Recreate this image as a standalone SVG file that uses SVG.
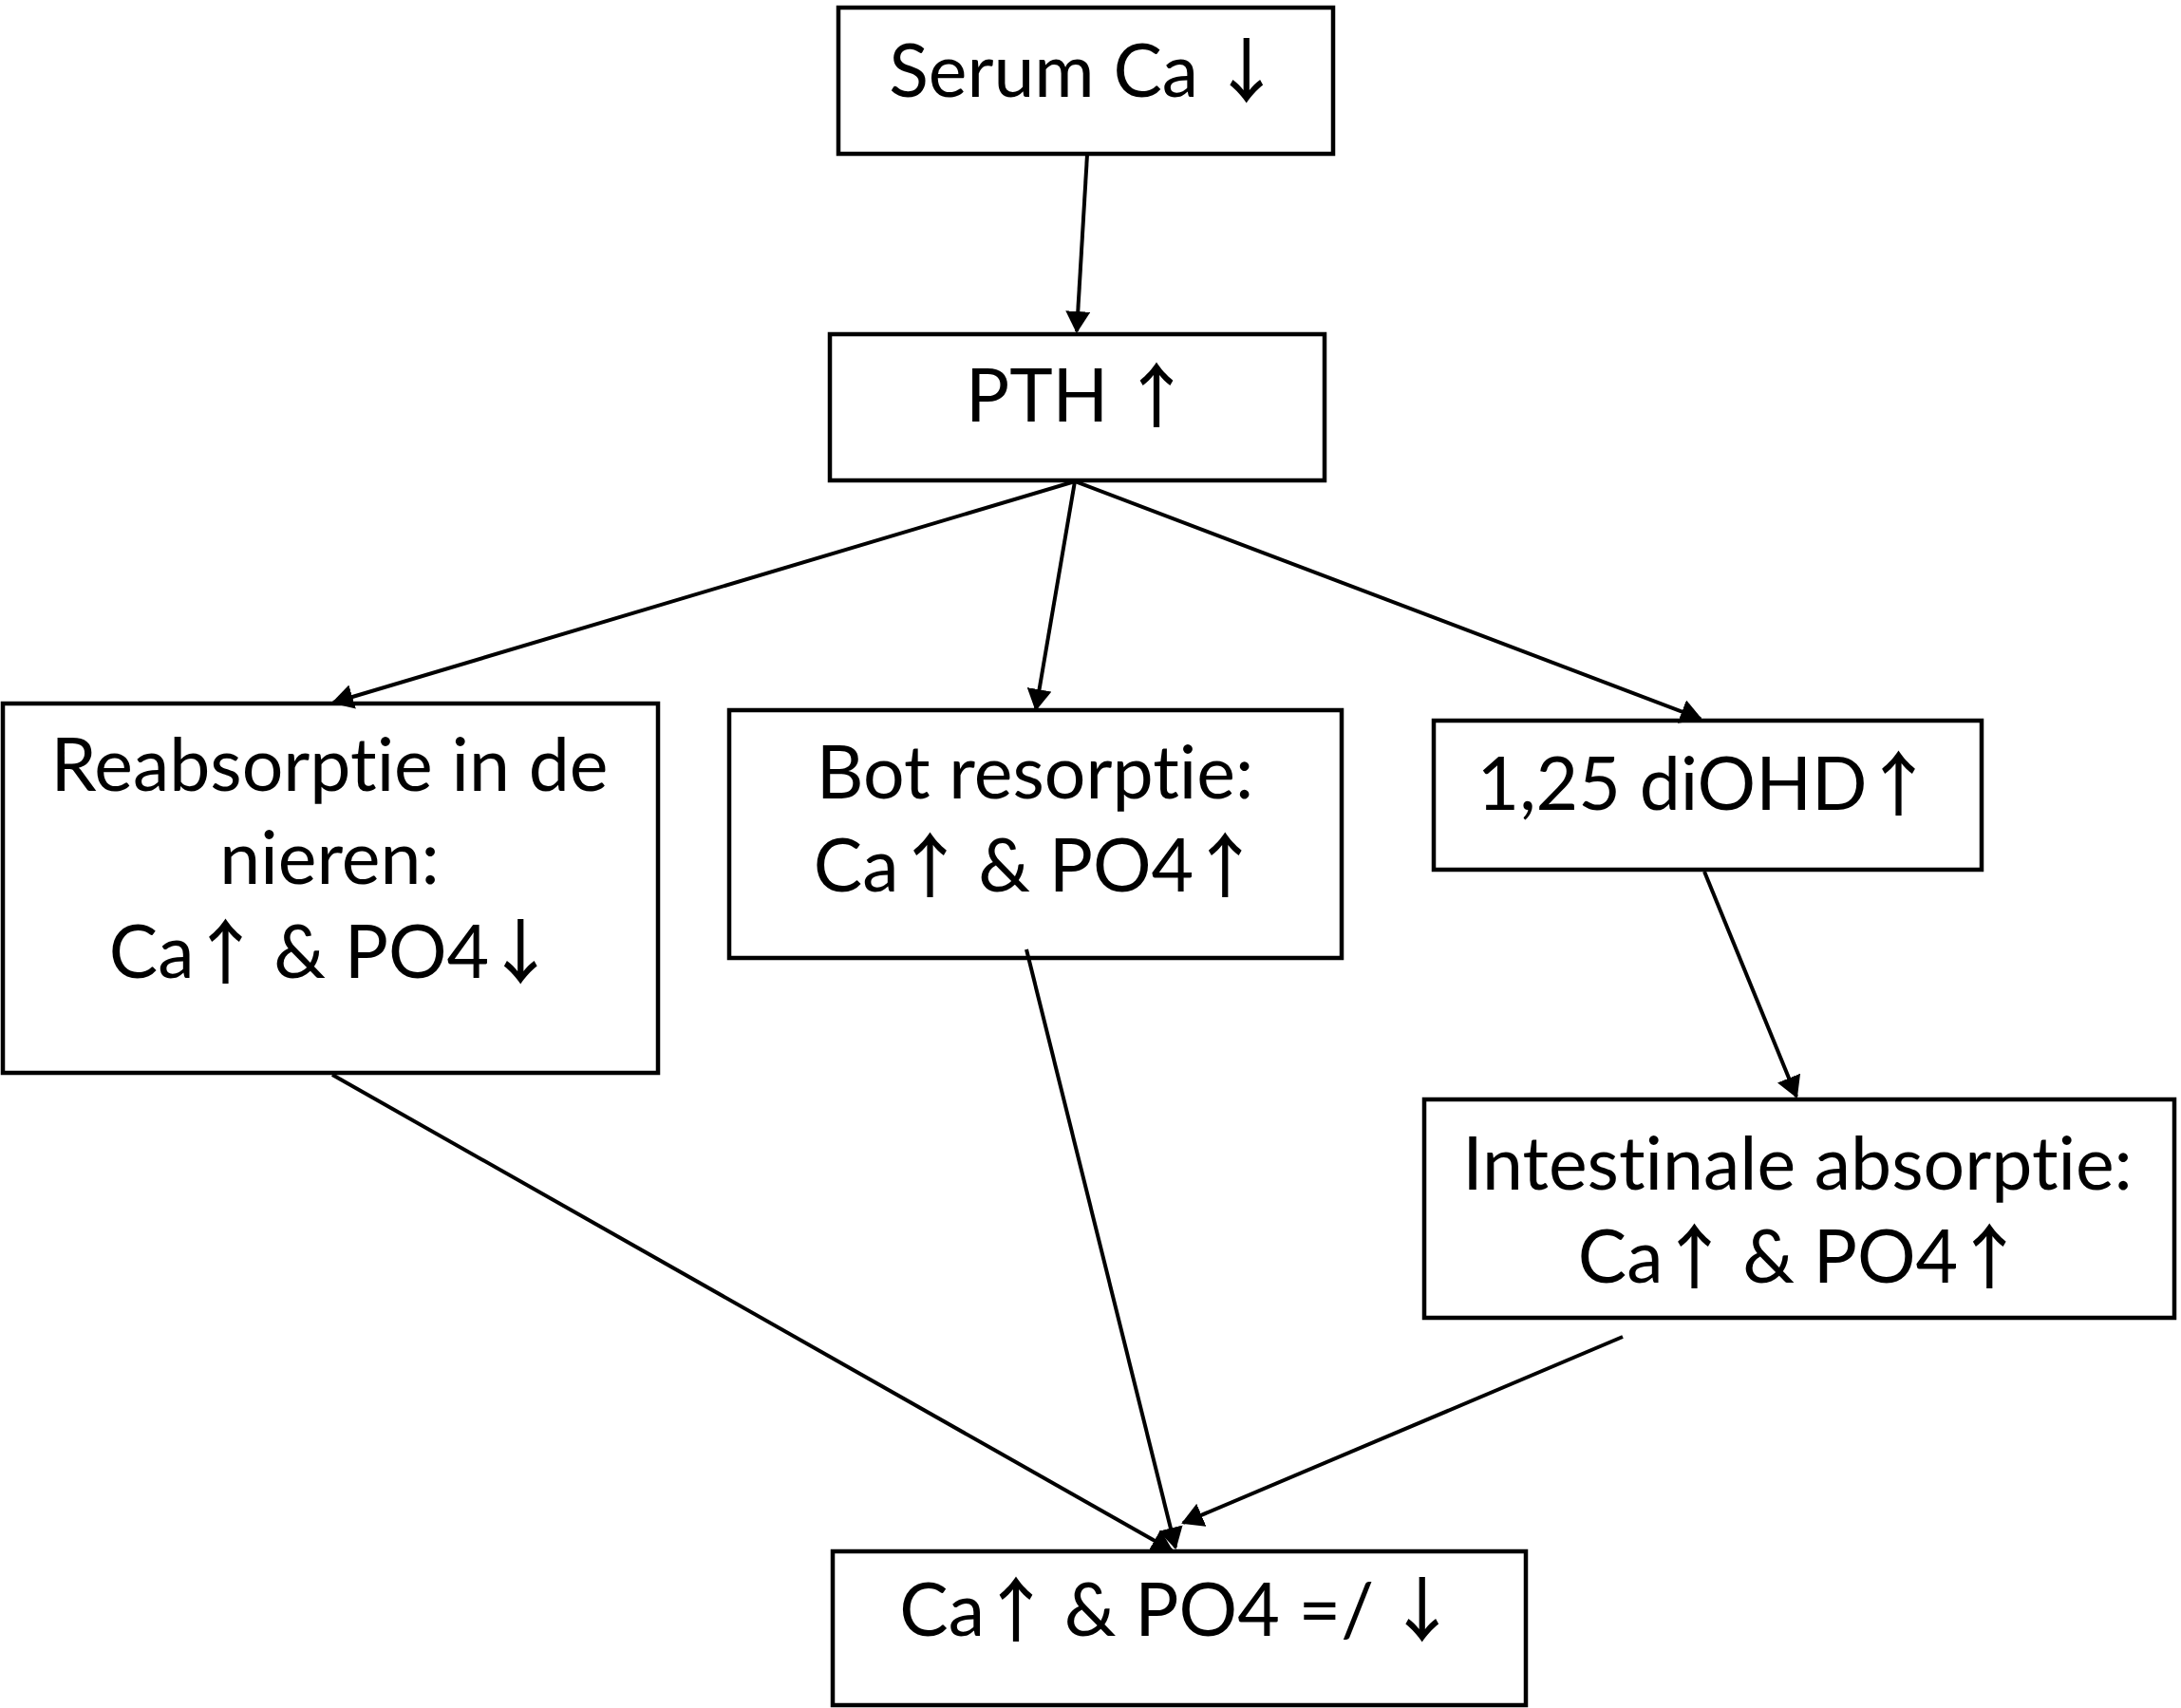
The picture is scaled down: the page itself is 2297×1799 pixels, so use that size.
<svg xmlns="http://www.w3.org/2000/svg" width="2297" height="1799" viewBox="0 0 2297 1799">
<style>
.box{fill:#fff;stroke:#000;stroke-width:4.5}
.lbl{font-family:Lato,"Liberation Sans",sans-serif;font-size:77px;fill:#000;text-anchor:middle;font-variant-ligatures:none;font-feature-settings:"liga" 0,"clig" 0}
.ar{font-family:"Noto Sans CJK JP","DejaVu Sans",sans-serif;font-size:74px;font-weight:500;letter-spacing:-6px}
.con{stroke:#000;stroke-width:4;fill:none;marker-end:url(#ah)}
</style>
<defs>
<marker id="ah" markerUnits="userSpaceOnUse" viewBox="0 0 23 26" markerWidth="23" markerHeight="26" refX="21" refY="13" orient="auto">
<path d="M0,0 L23,13 L0,26 z" fill="#000"/>
</marker>
</defs>
<rect width="2297" height="1799" fill="#fff"/>
<g id="serum">
<rect class="box" x="883" y="8" width="521" height="154"/>
<text class="lbl" x="1140" y="102">Serum Ca <tspan class="ar" dx="-6">↓</tspan></text>
</g>
<g id="pth">
<rect class="box" x="874" y="352" width="521" height="154"/>
<text class="lbl" x="1133" y="444">PTH <tspan class="ar" dx="-6">↑</tspan></text>
</g>
<g id="reabsorptie">
<rect class="box" x="3" y="741" width="690" height="389"/>
<text class="lbl" x="347" y="833">Reabsorptie in de</text>
<text class="lbl" x="347" y="931">nieren:</text>
<text class="lbl" x="347" y="1030">Ca<tspan class="ar" dx="-4">↑</tspan> &amp; PO4<tspan class="ar" dx="-4">↓</tspan></text>
</g>
<g id="bot">
<rect class="box" x="768" y="748" width="645" height="261"/>
<text class="lbl" x="1090" y="841">Bot resorptie:</text>
<text class="lbl" x="1089" y="939">Ca<tspan class="ar" dx="-4">↑</tspan> &amp; PO4<tspan class="ar" dx="-4">↑</tspan></text>
</g>
<g id="diohd">
<rect class="box" x="1510" y="759" width="577" height="157"/>
<text class="lbl" x="1793" y="853">1,25 diOHD<tspan class="ar" dx="-4">↑</tspan></text>
</g>
<g id="intestinale">
<rect class="box" x="1500" y="1158" width="790" height="230"/>
<text class="lbl" x="1893" y="1253">Intestinale absorptie:</text>
<text class="lbl" x="1894" y="1351">Ca<tspan class="ar" dx="-4">↑</tspan> &amp; PO4<tspan class="ar" dx="-4">↑</tspan></text>
</g>
<g id="result">
<rect class="box" x="877" y="1634" width="730" height="162"/>
<text class="lbl" x="1238" y="1723">Ca<tspan class="ar" dx="-4">↑</tspan> &amp; PO4 =/ <tspan class="ar" dx="-6">↓</tspan></text>
</g>
<g id="connectors">
<line class="con" x1="1145" y1="163" x2="1134" y2="349"/>
<line class="con" x1="1132" y1="507" x2="351" y2="740"/>
<line class="con" x1="1132" y1="507" x2="1091" y2="747"/>
<line class="con" x1="1132" y1="507" x2="1791" y2="757"/>
<line class="con" x1="1795" y1="918" x2="1892" y2="1155"/>
<line class="con" x1="350" y1="1132" x2="1234" y2="1633"/>
<line class="con" x1="1081" y1="1000" x2="1238" y2="1630"/>
<line class="con" x1="1709" y1="1408" x2="1246" y2="1604"/>
</g>
</svg>
